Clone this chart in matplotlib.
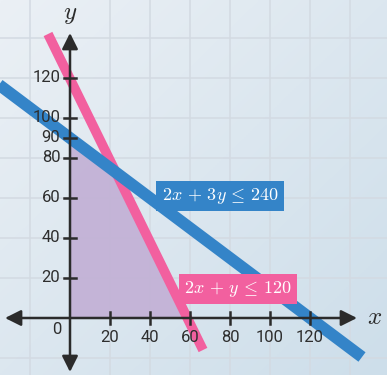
import numpy as np
import matplotlib.pyplot as plt
from matplotlib.colors import LinearSegmentedColormap

plt.rcParams['mathtext.fontset'] = 'cm'

# data
x_ticks = [20, 40, 60, 80, 100, 120]
y_ticks = [20, 40, 60, 80, 90, 100, 120]
grid_x = [-20, 20, 40, 60, 80, 100, 120, 140]
grid_y = [-20, 20, 40, 60, 80, 100, 120, 140]

blue_x = [-40, 146]
blue_y = [120, -19.5]
pink_x = [-11, 66.5]
pink_y = [142, -16]

region_x = [0, 60, 24, 0]
region_y = [0, 0, 72, 90]

blue_label = r'$2x\,+\,3y\,\leq\,240$'
pink_label = r'$2x\,+\,y\,\leq\,120$'

BLUE = '#3484c8'
PINK = '#f2609f'
AXIS = '#2b2b2b'

fig = plt.figure(figsize=(3.87, 3.75), dpi=100)
ax = fig.add_axes([0, 0, 1, 1])
xlim = (-35, 158.5)
ylim = (-28.5, 159)

# background gradient
cmap = LinearSegmentedColormap.from_list('bg', ['#ebf0f5', '#cddeea'])
gx, gy = np.meshgrid(np.linspace(0, 1, 200), np.linspace(0, 1, 200))
ax.imshow((gx + gy) / 2, cmap=cmap, extent=(xlim[0], xlim[1], ylim[0], ylim[1]),
          origin='upper', aspect='auto', zorder=0)

for gxv in grid_x:
    ax.axvline(gxv, color='#d3dae2', lw=1.1, zorder=1)
for gyv in grid_y:
    ax.axhline(gyv, color='#d3dae2', lw=1.1, zorder=1)

ax.fill(region_x, region_y, color='#c3b2d6', alpha=0.95, zorder=2, lw=0)

ax.plot(pink_x, pink_y, color=PINK, lw=7, solid_capstyle='butt', zorder=3)
ax.plot(blue_x, blue_y, color=BLUE, lw=8.5, solid_capstyle='butt', zorder=4)

# axes with arrows
ax.annotate('', xy=(143.5, 0), xytext=(-32.5, 0),
            arrowprops=dict(arrowstyle='<|-|>', color=AXIS, lw=1.8,
                            mutation_scale=24, shrinkA=0, shrinkB=0), zorder=5)
ax.annotate('', xy=(0, 142.5), xytext=(0, -27),
            arrowprops=dict(arrowstyle='<|-|>', color=AXIS, lw=1.8,
                            mutation_scale=24, shrinkA=0, shrinkB=0), zorder=5)

tick_font = dict(fontsize=12, color='#2e2e2e', family='Roboto', zorder=5)
for t in x_ticks:
    ax.plot([t, t], [-3.2, 3.2], color=AXIS, lw=1.8, zorder=5)
    ax.text(t, -10, str(t), ha='center', va='center', **tick_font)
for t in y_ticks:
    ax.plot([-3.2, 3.2], [t, t], color=AXIS, lw=1.8, zorder=5)
    ax.text(-4.8, t, str(t), ha='right', va='center', **tick_font)
ax.text(-6.5, -5.5, '0', ha='center', va='center', **tick_font)

ax.text(0, 152, r'$y$', ha='center', va='center', fontsize=18, color=AXIS)
ax.text(152.5, 0.5, r'$x$', ha='center', va='center', fontsize=18, color=AXIS)

ax.text(75, 61, blue_label, ha='center', va='center', fontsize=13, color='white',
        zorder=6, bbox=dict(boxstyle='square,pad=0.3', fc=BLUE, ec='none'))
ax.text(84, 14.5, pink_label, ha='center', va='center', fontsize=13, color='white',
        zorder=6, bbox=dict(boxstyle='square,pad=0.3', fc=PINK, ec='none'))

ax.set_xlim(*xlim)
ax.set_ylim(*ylim)
ax.axis('off')

fig.savefig('out.png', dpi=100)
